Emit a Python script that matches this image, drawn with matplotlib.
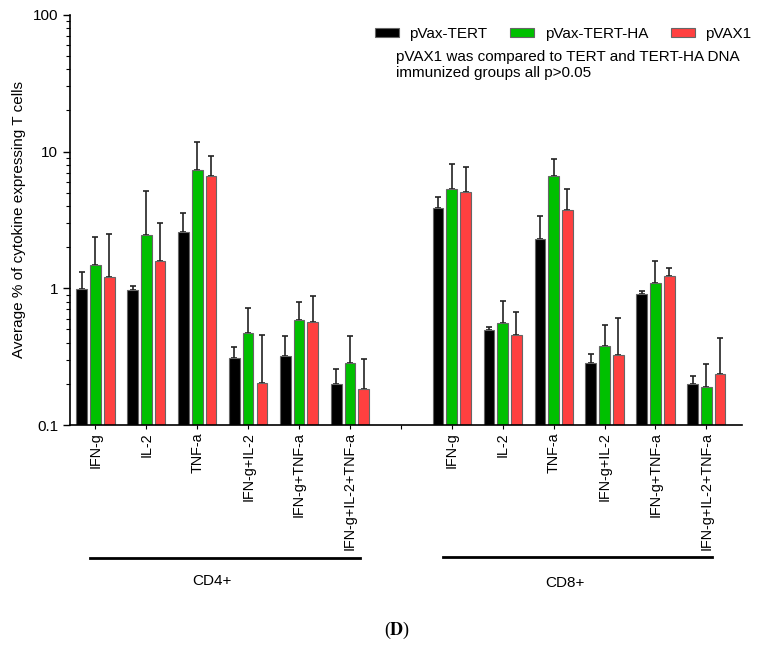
import matplotlib
matplotlib.use("Agg")
import matplotlib.pyplot as plt
from matplotlib.ticker import LogLocator, NullFormatter
import numpy as np

plt.rcParams['font.family'] = ['Liberation Sans', 'DejaVu Sans']
plt.rcParams['mathtext.fontset'] = 'stix'

categories = ["IFN-g", "IL-2", "TNF-a", "IFN-g+IL-2", "IFN-g+TNF-a", "IFN-g+IL-2+TNF-a"]
groups = ["CD4+", "CD8+"]
series = ["pVax-TERT", "pVax-TERT-HA", "pVAX1"]

# means (CD4 then CD8)
tert_mean = [0.99, 0.97, 2.58, 0.308, 0.318, 0.20,
             3.85, 0.498, 2.29, 0.286, 0.904, 0.198]
tertha_mean = [1.48, 2.47, 7.30, 0.469, 0.583, 0.286,
               5.30, 0.56, 6.66, 0.376, 1.09, 0.189]
vax_mean = [1.20, 1.59, 6.59, 0.202, 0.564, 0.182,
            5.06, 0.458, 3.74, 0.323, 1.23, 0.235]
# top of error bars
tert_top = [1.32, 1.04, 3.57, 0.374, 0.445, 0.255,
            4.66, 0.524, 3.36, 0.329, 0.96, 0.228]
tertha_top = [2.36, 5.15, 11.7, 0.72, 0.80, 0.445,
              8.07, 0.81, 8.87, 0.542, 1.58, 0.278]
vax_top = [2.50, 2.99, 9.24, 0.455, 0.883, 0.305,
           7.68, 0.675, 5.30, 0.603, 1.41, 0.435]

colors = ["#000000", "#00C000", "#FF4040"]

fig = plt.figure(figsize=(7.68, 6.45), dpi=100)
ax = fig.add_axes([0.0911, 0.341, 0.875, 0.636])

pos = np.array(list(range(0, 6)) + list(range(7, 13)), dtype=float)
offs = [-0.27, 0.0, 0.27]
w = 0.21
means = [tert_mean, tertha_mean, vax_mean]
tops = [tert_top, tertha_top, vax_top]
for i in range(3):
    m = np.array(means[i]); t = np.array(tops[i])
    ax.bar(pos + offs[i], m, width=w, color=colors[i], edgecolor="#666666",
           linewidth=0.8, label=series[i], zorder=2)
    ax.errorbar(pos + offs[i], m, yerr=[np.zeros_like(m), t - m], fmt="none",
                ecolor="#222222", elinewidth=1.2, capsize=2.5, capthick=1.2, zorder=1)

ax.set_yscale("log")
ax.set_ylim(0.1, 100)
ax.set_xlim(-0.5, 12.7)
ax.set_yticks([0.1, 1, 10, 100])
ax.set_yticklabels(["0.1", "1", "10", "100"], fontsize=11)
ax.yaxis.set_minor_locator(LogLocator(base=10, subs=np.arange(2, 10)))
ax.yaxis.set_minor_formatter(NullFormatter())
ax.tick_params(axis="y", which="major", length=5, width=1)
ax.tick_params(axis="y", which="minor", length=3, width=0.8)

ticks = list(pos[:6]) + [6.0] + list(pos[6:])
labels = categories + [""] + categories
ax.set_xticks(ticks)
ax.set_xticklabels(labels, rotation=90, fontsize=10.4)
ax.tick_params(axis="x", length=3, width=0.8, pad=2)

for s in ["top", "right"]:
    ax.spines[s].set_visible(False)
ax.spines["left"].set_linewidth(1.2)
ax.spines["bottom"].set_linewidth(1.2)

ax.set_ylabel("Average % of cytokine expressing T cells", fontsize=11)
ax.yaxis.set_label_coords(-0.066, 0.5)

handles, lbls = ax.get_legend_handles_labels()
leg = fig.legend(handles, lbls, loc="center left", bbox_to_anchor=(375/768, 1 - 34/645),
                 ncol=3, frameon=False, fontsize=11, handlelength=1.55, handleheight=0.55,
                 columnspacing=1.5, handletextpad=0.7, borderpad=0, borderaxespad=0)
for h in leg.legend_handles:
    h.set_edgecolor("#666666")
fig.text(396/768, 1 - 50/645, "pVAX1 was compared to TERT and TERT-HA DNA\nimmunized groups all p>0.05",
         fontsize=11, ha="left", va="top", linespacing=1.2)

# group lines and labels
fig.add_artist(plt.Line2D([90/768, 360/768], [1 - 558/645] * 2, color="black", lw=2))
fig.add_artist(plt.Line2D([443/768, 712/768], [1 - 557/645] * 2, color="black", lw=2))
fig.text(212/768, 1 - 581/645, groups[0], ha="center", va="center", fontsize=11)
fig.text(565/768, 1 - 583/645, groups[1], ha="center", va="center", fontsize=11)
fig.text(397/768, 1 - 630/645, r"($\mathbf{D}$)", ha="center", va="center", fontsize=13,
         family=["Liberation Serif", "DejaVu Serif"])

fig.savefig("out.png", dpi=100)
